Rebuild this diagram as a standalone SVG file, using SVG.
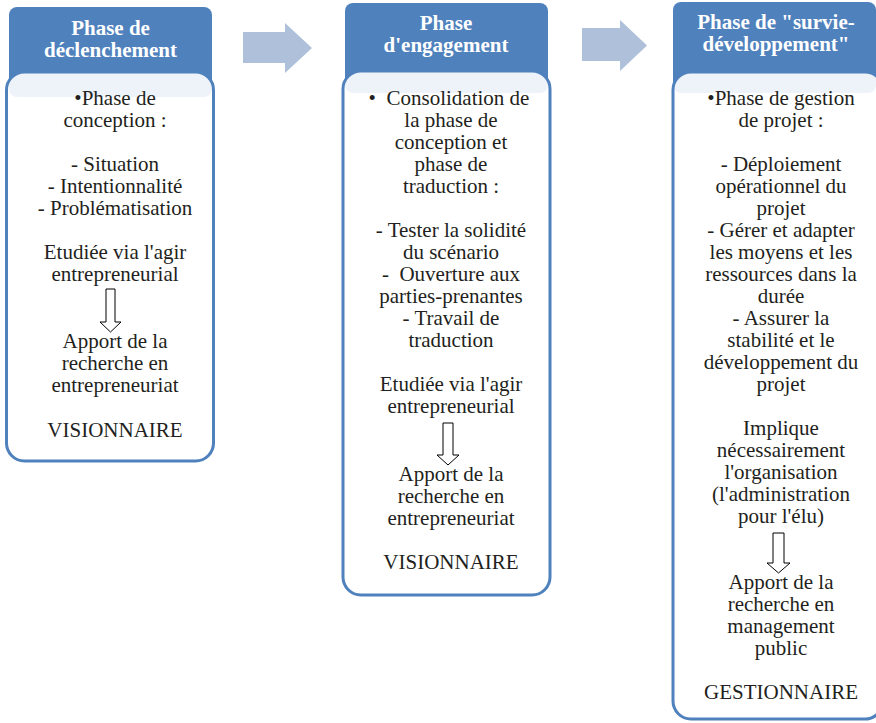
<svg xmlns="http://www.w3.org/2000/svg" width="876" height="723" viewBox="0 0 876 723">
<style>
.hdr{fill:#4F81BD;}
.body{fill:#FFFFFF;fill-opacity:0.9;stroke:#4F81BD;stroke-width:3;}
.ht{font-family:"Liberation Serif","Times New Roman",serif;font-weight:bold;font-size:21px;fill:#FFFFFF;text-anchor:middle;}
.bt text{font-family:"Liberation Serif","Times New Roman",serif;font-size:21px;fill:#231F20;text-anchor:middle;}
.big{fill:#AFC0DA;}
.down{fill:#FFFFFF;stroke:#000000;stroke-width:1;}
</style>
<rect width="876" height="723" fill="#FFFFFF"/>
<g id="connectors">
<path class="big" d="M243,32 H285 V23 L312,48 L285,73 V63 H243 Z"/>
<path class="big" d="M582,28 H620 V20 L647,45.5 L620,71 V61 H582 Z"/>
</g>
<g id="node-declenchement">
<rect class="hdr" x="9" y="7" width="203" height="90" rx="8"/>
<text class="ht" x="110.5" y="35">Phase de</text>
<text class="ht" x="110.5" y="57">déclenchement</text>
<rect class="body" x="6.5" y="72" width="207" height="389" rx="18"/>
<g class="bt">
<text x="115" y="105">•Phase de</text>
<text x="115" y="127">conception :</text>
<text x="115" y="171">- Situation</text>
<text x="115" y="193">- Intentionnalité</text>
<text x="115" y="215">- Problématisation</text>
<text x="115" y="259">Etudiée via l'agir</text>
<text x="115" y="281">entrepreneurial</text>
<text x="115" y="348">Apport de la</text>
<text x="115" y="370">recherche en</text>
<text x="115" y="392">entrepreneuriat</text>
<text x="115" y="437">VISIONNAIRE</text>
</g>
<path class="down" d="M106,289 H115 V322 H121 L110.5,332 L100,322 H106 Z"/>
</g>
<g id="node-engagement">
<rect class="hdr" x="345" y="3" width="203" height="90" rx="8"/>
<text class="ht" x="446" y="30">Phase</text>
<text class="ht" x="446" y="52">d'engagement</text>
<rect class="body" x="343" y="71" width="207" height="524" rx="18"/>
<g class="bt">
<text x="449" y="105" xml:space="preserve">•  Consolidation de</text>
<text x="451" y="127">la phase de</text>
<text x="451" y="149">conception et</text>
<text x="451" y="171">phase de</text>
<text x="451" y="193">traduction :</text>
<text x="451" y="237">- Tester la solidité</text>
<text x="451" y="259">du scénario</text>
<text x="451" y="281" xml:space="preserve">-  Ouverture aux</text>
<text x="451" y="303">parties-prenantes</text>
<text x="451" y="325">- Travail de</text>
<text x="451" y="347">traduction</text>
<text x="451" y="391">Etudiée via l'agir</text>
<text x="451" y="413">entrepreneurial</text>
<text x="451" y="481">Apport de la</text>
<text x="451" y="503">recherche en</text>
<text x="451" y="525">entrepreneuriat</text>
<text x="451" y="569">VISIONNAIRE</text>
</g>
<path class="down" d="M443,423 H453 V455 H459 L448,465 L437,455 H443 Z"/>
</g>
<g id="node-survie">
<rect class="hdr" x="673" y="2" width="203" height="91" rx="8"/>
<text class="ht" x="776" y="29">Phase de "survie-</text>
<text class="ht" x="776" y="51">développement"</text>
<rect class="body" x="673" y="72" width="210" height="647" rx="18"/>
<g class="bt">
<text x="781" y="105">•Phase de gestion</text>
<text x="781" y="127">de projet :</text>
<text x="781" y="171">- Déploiement</text>
<text x="781" y="193">opérationnel du</text>
<text x="781" y="215">projet</text>
<text x="781" y="237">- Gérer et adapter</text>
<text x="781" y="259">les moyens et les</text>
<text x="781" y="281">ressources dans la</text>
<text x="781" y="303">durée</text>
<text x="781" y="325">- Assurer la</text>
<text x="781" y="347">stabilité et le</text>
<text x="781" y="369">développement du</text>
<text x="781" y="391">projet</text>
<text x="781" y="435">Implique</text>
<text x="781" y="457">nécessairement</text>
<text x="781" y="479">l'organisation</text>
<text x="781" y="501">(l'administration</text>
<text x="781" y="523">pour l'élu)</text>
<text x="781" y="589">Apport de la</text>
<text x="781" y="611">recherche en</text>
<text x="781" y="633">management</text>
<text x="781" y="655">public</text>
<text x="781" y="699">GESTIONNAIRE</text>
</g>
<path class="down" d="M773,533 H784 V563 H790 L778.5,573 L767,563 H773 Z"/>
</g>
</svg>
